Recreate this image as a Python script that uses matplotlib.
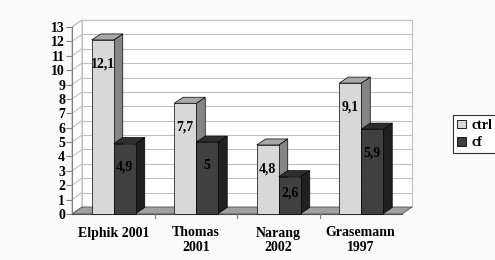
import matplotlib
matplotlib.use("Agg")
import matplotlib.pyplot as plt
from matplotlib.patches import Polygon, Rectangle
from matplotlib.lines import Line2D

categories = ["Elphik 2001", "Thomas\n2001", "Narang\n2002", "Grasemann\n1997"]
ctrl = [12.1, 7.7, 4.8, 9.1]
cf = [4.9, 5.0, 2.6, 5.9]
ctrl_labels = ["12,1", "7,7", "4,8", "9,1"]
cf_labels = ["4,9", "5", "2,6", "5,9"]
series_names = ["ctrl", "cf"]
yticks = list(range(0, 14))

W, H = 495, 260
fig = plt.figure(figsize=(W / 100, H / 100), dpi=100)
fig.patch.set_facecolor("#fafafa")
L, R, B, T = 72, 402, 214, 27
ax = fig.add_axes([L / W, (H - B) / H, (R - L) / W, (B - T) / H])
ax.set_xlim(-0.5, len(categories) - 0.5)
ax.set_ylim(0, 13)
ax.patch.set_visible(False)
for s in ax.spines.values():
    s.set_visible(False)

sx = (len(categories)) / (R - L)  # data units per px (x)
sy = 13 / (B - T)                  # data units per px (y)
bx, by = 10 * sx, 7 * sy            # back wall offset
dx, dy = 9 * sx, 6 * sy             # bar depth
x0, x1 = -0.5, len(categories) - 0.5
ymax = 13

grid_c = "#c0c0c0"
# back wall
ax.add_patch(Polygon([(x0 + bx, by), (x1 + bx, by), (x1 + bx, ymax + by), (x0 + bx, ymax + by)],
                     closed=True, facecolor="white", edgecolor=grid_c, lw=0.8, clip_on=False, zorder=1))
# left wall
ax.add_patch(Polygon([(x0, 0), (x0 + bx, by), (x0 + bx, ymax + by), (x0, ymax)],
                     closed=True, facecolor="white", edgecolor=grid_c, lw=0.8, clip_on=False, zorder=1))
for v in yticks[1:]:
    ax.plot([x0 + bx, x1 + bx], [v + by, v + by], color=grid_c, lw=0.8, clip_on=False, zorder=2)
    ax.plot([x0, x0 + bx], [v, v + by], color=grid_c, lw=0.8, clip_on=False, zorder=2)
# floor
ax.add_patch(Polygon([(x0, 0), (x1, 0), (x1 + bx, by), (x0 + bx, by)],
                     closed=True, facecolor="#a0a0a0", edgecolor="#505050", lw=0.6, clip_on=False, zorder=2))
# front axis
ax.plot([x0, x0], [0, ymax], color="#808080", lw=0.8, clip_on=False, zorder=3)
ax.plot([x0, x1], [0, 0], color="#505050", lw=0.8, clip_on=False, zorder=3)

w = 22 * sx
styles = [("#d8d8d8", "#a8a8a8", "#858585"), ("#404040", "#2e2e2e", "#202020")]
ox = 0.5 * (bx - dx)
oy = 0.5 * (by - dy)


def bar3d(xl, h, cols, z):
    front, top, side = cols
    xa, xb = xl + ox, xl + ox + w
    ya = oy
    ax.add_patch(Polygon([(xb, ya), (xb + dx, ya + dy), (xb + dx, h + dy), (xb, h)], closed=True,
                         facecolor=side, edgecolor="black", lw=0.5, clip_on=False, zorder=z))
    ax.add_patch(Polygon([(xa, h), (xb, h), (xb + dx, h + dy), (xa + dx, h + dy)], closed=True,
                         facecolor=top, edgecolor="black", lw=0.5, clip_on=False, zorder=z))
    ax.add_patch(Polygon([(xa, ya), (xb, ya), (xb, h), (xa, h)], closed=True,
                         facecolor=front, edgecolor="black", lw=0.5, clip_on=False, zorder=z))


font = dict(family="Liberation Serif", weight="bold")
for i in range(len(categories)):
    bar3d(i - w, ctrl[i], styles[0], 5)
    bar3d(i, cf[i], styles[1], 6)
    for xl, v, lab in [(i - w, ctrl[i], ctrl_labels[i]), (i, cf[i], cf_labels[i])]:
        ly = max(v - 1.65, v * 0.56)
        ax.text(xl + ox + w / 2, ly, lab, ha="center", va="center", fontsize=10, zorder=10, **font)

ax.set_yticks(yticks)
ax.set_yticklabels([str(v) for v in yticks], fontsize=10, **font)
ax.tick_params(axis="y", length=4, width=0.8, color="#808080", pad=1)
ax.set_xticks(range(len(categories)))
ax.set_xticklabels(categories, fontsize=10, linespacing=1.15, **font)
ax.tick_params(axis="x", length=0, pad=9)
for xm in [0.5, 1.5, 2.5]:
    ax.plot([xm, xm], [0, -4 * sy], color="#808080", lw=0.8, clip_on=False, zorder=3)

handles = [Rectangle((0, 0), 1, 1, facecolor=styles[k][0], edgecolor="black", lw=0.6) for k in range(2)]
leg = fig.legend(handles, series_names, loc="center left", bbox_to_anchor=(453 / W, 1 - 134 / H),
                 prop=dict(family="Liberation Serif", weight="bold", size=10),
                 frameon=True, fancybox=False, handlelength=0.6, handleheight=0.6,
                 handletextpad=0.4, borderpad=0.3, labelspacing=0.3, borderaxespad=0)
leg.get_frame().set_edgecolor("black")
leg.get_frame().set_linewidth(0.8)
leg.get_frame().set_facecolor("white")

fig.savefig("out.png", dpi=100, facecolor=fig.get_facecolor())
